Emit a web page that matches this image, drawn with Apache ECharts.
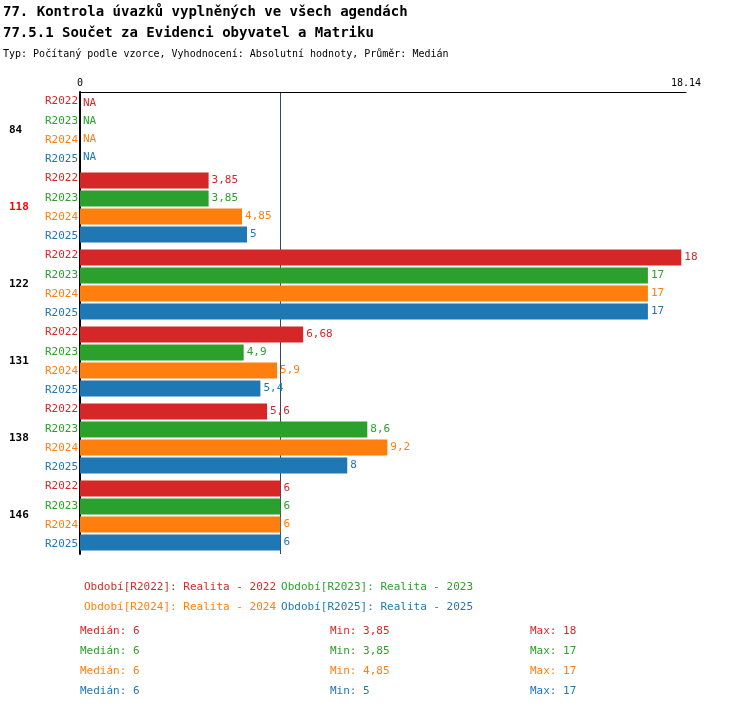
<!DOCTYPE html>
<html>
<head>
<meta charset="utf-8">
<script src="https://cdn.jsdelivr.net/npm/echarts@6/dist/echarts.min.js"></script>
<style>html,body{margin:0;padding:0;background:#fff}#main{width:750px;height:710px}</style>
</head>
<body>
<div id="main"></div>
<script>
var groups = ['84', '118', '122', '131', '138', '146'];
var seriesNames = ['R2022', 'R2023', 'R2024', 'R2025'];
var years = ['2022', '2023', '2024', '2025'];
var colors = ['#d62728', '#2ca02c', '#ff7f0e', '#1f77b4'];
// null = NA
var v2022 = [null, 3.85, 18, 6.68, 5.6, 6];
var v2023 = [null, 3.85, 17, 4.9, 8.6, 6];
var v2024 = [null, 4.85, 17, 5.9, 9.2, 6];
var v2025 = [null, 5, 17, 5.4, 8, 6];
var medianValue = 6;
var font = 'DejaVu Sans Mono';

var values = [v2022, v2023, v2024, v2025];
var rowLabels = [];
groups.forEach(function () { seriesNames.forEach(function (n) { rowLabels.push(n); }); });

function fmt(v) { return String(v).replace('.', ','); }
function median(arr) {
    var a = arr.filter(function (x) { return x != null; }).sort(function (x, y) { return x - y; });
    var m = Math.floor(a.length / 2);
    return a.length % 2 ? a[m] : (a[m - 1] + a[m]) / 2;
}

var series = values.map(function (vals, i) {
    var s = {
        name: seriesNames[i],
        type: 'bar',
        barWidth: 16,
        barGap: '12.5%',
        barCategoryGap: 8,
        itemStyle: {color: colors[i]},
        data: vals.map(function (v) { return v == null ? 0 : v; }),
        label: {
            show: true, position: 'right', distance: 3,
            color: colors[i], fontFamily: font, fontSize: 11,
            formatter: function (p) { return vals[p.dataIndex] == null ? 'NA' : fmt(vals[p.dataIndex]); }
        }
    };
    if (i === 0) {
        s.markLine = {
            silent: true, symbol: 'none', z: 0, label: {show: false},
            lineStyle: {color: '#2b4a6b', type: 'solid', width: 1},
            data: [{xAxis: medianValue}]
        };
    }
    return s;
});

var graphic = [];
var cols = [80, 330, 530];
values.forEach(function (vals, i) {
    var a = vals.filter(function (x) { return x != null; });
    var texts = ['Medián: ' + fmt(median(vals)), 'Min: ' + fmt(Math.min.apply(null, a)), 'Max: ' + fmt(Math.max.apply(null, a))];
    texts.forEach(function (t, j) {
        graphic.push({type: 'text', left: cols[j], top: 626 + i * 20,
            style: {text: t, fill: colors[i], font: '11px "' + font + '"'}});
    });
});

var chart = echarts.init(document.getElementById('main'));
chart.setOption({
    animation: false,
    textStyle: {fontFamily: font},
    title: [
        {text: '77. Kontrola úvazků vyplněných ve všech agendách', left: -2, top: 0,
            textStyle: {fontFamily: font, fontSize: 14, fontWeight: 'bold', color: '#000'}},
        {text: '77.5.1 Součet za Evidenci obyvatel a Matriku', left: -2, top: 21,
            textStyle: {fontFamily: font, fontSize: 14, fontWeight: 'bold', color: '#000'}},
        {text: 'Typ: Počítaný podle vzorce, Vyhodnocení: Absolutní hodnoty, Průměr: Medián', left: -2, top: 44,
            textStyle: {fontFamily: font, fontSize: 10, fontWeight: 'normal', color: '#000'}}
    ],
    grid: {left: 80, right: 64, top: 92, height: 462},
    xAxis: {
        type: 'value', position: 'top', min: 0, max: 18.14, interval: 100,
        axisLine: {show: true, lineStyle: {color: '#000', width: 1}},
        axisTick: {show: false}, splitLine: {show: false},
        axisLabel: {color: '#000', fontFamily: font, fontSize: 10, margin: 4}
    },
    yAxis: [
        {
            type: 'category', inverse: true, data: groups,
            axisLine: {show: true, onZero: false, lineStyle: {color: '#000', width: 2}},
            axisTick: {show: false},
            axisLabel: {
                align: 'left', margin: 71, fontFamily: font, fontSize: 11, fontWeight: 'bold',
                color: function (v) { return v === '118' ? '#ff0000' : '#000'; }
            }
        },
        {
            type: 'category', inverse: true, data: rowLabels, position: 'left',
            axisLine: {show: false}, axisTick: {show: false},
            axisLabel: {
                margin: 2, fontFamily: font, fontSize: 11, interval: 0,
                color: function (v) { return colors[seriesNames.indexOf(v)]; }
            }
        }
    ],
    legend: [0, 1].map(function (r) {
        return {
            left: 74, top: 575 + r * 20, icon: 'none', itemWidth: 0, itemGap: 0, selectedMode: false,
            data: seriesNames.slice(r * 2, r * 2 + 2).map(function (n) {
                return {name: n, textStyle: {color: colors[seriesNames.indexOf(n)]}};
            }),
            formatter: function (n) { return '{a|Období[' + n + ']: Realita - ' + years[seriesNames.indexOf(n)] + '}'; },
            textStyle: {fontFamily: font, fontSize: 11, rich: {a: {width: 300, fontFamily: font, fontSize: 11}}}
        };
    }),
    graphic: graphic,
    series: series
});
</script>
</body>
</html>
